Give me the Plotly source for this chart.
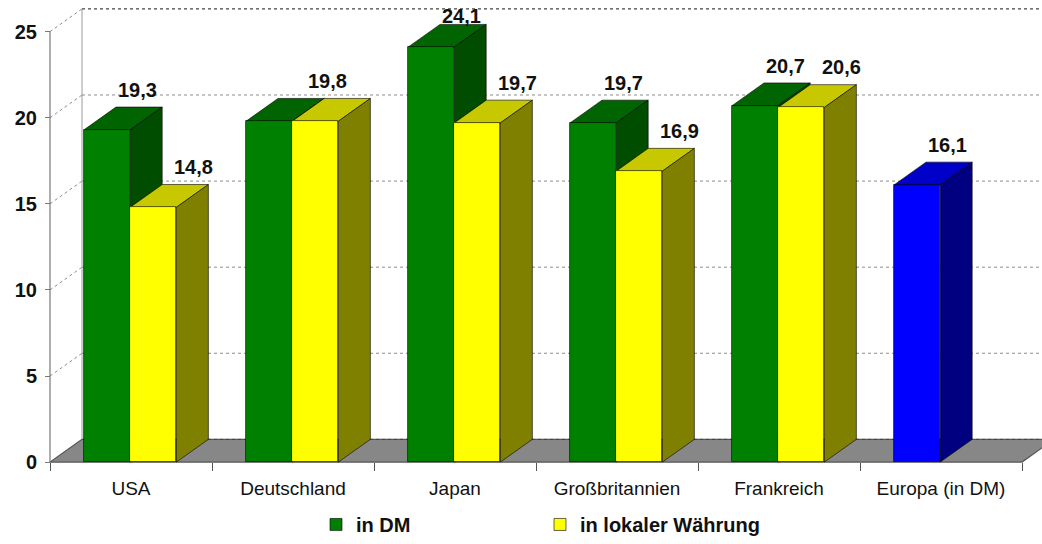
import plotly.graph_objects as go

# ---- data -----------------------------------------------------------------
categories = ["USA", "Deutschland", "Japan", "Großbritannien", "Frankreich", "Europa (in DM)"]
in_dm = [19.3, 19.8, 24.1, 19.7, 20.7, 16.1]
in_local = [14.8, 19.8, 19.7, 16.9, 20.6, None]
y_ticks = [0, 5, 10, 15, 20, 25]

# ---- geometry of the pseudo-3D frame ---------------------------------------
W, H = 1042, 544
X0_PX, Y0_PX = 50, 467          # pixel position of the front origin
PX_PER_CAT = 162                # pixels per category slot
PX_PER_UNIT = 17.4              # pixels per value unit
DEPTH_PX = (32, 23)             # receding offset of the back plane
PAD = 10                        # extra room so edge lines are not clipped

plot_left, plot_bottom = X0_PX - PAD, Y0_PX + PAD
x_range = [-PAD / PX_PER_CAT, (W - X0_PX) / PX_PER_CAT]
y_range = [-PAD / PX_PER_UNIT, Y0_PX / PX_PER_UNIT]
DX = DEPTH_PX[0] / PX_PER_CAT
DY = DEPTH_PX[1] / PX_PER_UNIT
N = len(categories)
TOP = max(y_ticks)

SLOT_L, SLOT_M, SLOT_R = 0.21, 0.495, 0.78   # bar edges inside a slot

FONT = "Liberation Sans, Arial, sans-serif"
GREEN = dict(front="#008000", top="#006400", side="#004d00")
YELLOW = dict(front="#ffff00", top="#c8c800", side="#808000")
BLUE = dict(front="#0000ff", top="#0000c8", side="#000080")
EDGE = "rgba(0,0,0,0.75)"

shapes = []


def poly(points, fill, line_color=EDGE, width=0.8):
    path = "M " + " L ".join(f"{x},{y}" for x, y in points) + " Z"
    shapes.append(dict(type="path", path=path, xref="x", yref="y",
                       fillcolor=fill, line=dict(color=line_color, width=width),
                       layer="below"))


def seg(x1, y1, x2, y2, color, dash="solid", width=1):
    shapes.append(dict(type="line", x0=x1, y0=y1, x1=x2, y1=y2, xref="x", yref="y",
                       line=dict(color=color, width=width, dash=dash), layer="below"))


# floor
poly([(0, 0), (N, 0), (N + DX, DY), (DX, DY)], "#878787", "#555555", 1.2)
# back wall grid lines and left wall diagonals
for v in y_ticks:
    seg(DX, v + DY, x_range[1] + 1, v + DY,
        "#444444" if v in (0, TOP) else "#8c8c8c", "dot", 1.4 if v == TOP else 1)
    if v > 0:
        seg(0, v, DX, v + DY, "#8c8c8c", "dot", 1)
# back wall left edge and front value axis
seg(DX, DY, DX, TOP + DY, "#9a9a9a")
seg(0, 0, 0, TOP, "#777777", width=1.2)

# top and side faces of each box, left series first so the right one overlaps it
bar_colors = [GREEN] * (N - 1) + [BLUE]
for i in range(N):
    for vals, left, right, col in ((in_dm, SLOT_L, SLOT_M, bar_colors[i]),
                                   (in_local, SLOT_M, SLOT_R, YELLOW)):
        v = vals[i]
        if v is None:
            continue
        a, b = i + left, i + right
        poly([(a, v), (b, v), (b + DX, v + DY), (a + DX, v + DY)], col["top"])
        poly([(b, 0), (b + DX, DY), (b + DX, v + DY), (b, v)], col["side"])

# ---- front faces -----------------------------------------------------------
fig = go.Figure()
fig.add_trace(go.Bar(
    name="in DM",
    x=[i + (SLOT_L + SLOT_M) / 2 for i in range(N)], y=in_dm,
    width=SLOT_M - SLOT_L,
    marker=dict(color=[c["front"] for c in bar_colors], line=dict(color=EDGE, width=0.8)),
    hoverinfo="skip",
))
fig.add_trace(go.Bar(
    name="in lokaler Währung",
    x=[i + (SLOT_M + SLOT_R) / 2 for i in range(N)], y=in_local,
    width=SLOT_R - SLOT_M,
    marker=dict(color=YELLOW["front"], line=dict(color=EDGE, width=0.8)),
    hoverinfo="skip",
))


def fmt(v):
    return f"{v:.1f}".replace(".", ",")


# value labels, lifted above the box but kept inside the frame
LABEL_LIFT = 40
LABEL_MIN_Y_PX = 17
annotations = []
for i in range(N):
    g, y = in_dm[i], in_local[i]
    cg = i + (SLOT_L + SLOT_M) / 2
    cy = i + (SLOT_M + SLOT_R) / 2
    items = []
    if y is not None and abs(g - y) < 1e-9:
        items.append(((cg + cy) / 2, g, 35))
    else:
        items.append((cg, g, 30))
        if y is not None:
            items.append((cy, y, 40))
    for x, v, xs in items:
        top_px = Y0_PX - v * PX_PER_UNIT
        lift = min(LABEL_LIFT, top_px - LABEL_MIN_Y_PX)
        annotations.append(dict(x=x, y=v, xref="x", yref="y", text=fmt(v),
                                showarrow=False, xshift=xs, yshift=lift,
                                font=dict(family=FONT, size=20, color="#111111",
                                          weight="bold"),
                                xanchor="center", yanchor="middle"))

fig.update_layout(
    width=W, height=H,
    margin=dict(l=plot_left, r=0, t=0, b=H - plot_bottom),
    paper_bgcolor="white", plot_bgcolor="white",
    barmode="overlay", bargap=0,
    shapes=shapes, annotations=annotations,
    font=dict(family=FONT, color="#111111"),
    showlegend=True,
    legend=dict(orientation="h", x=(316 - plot_left) / (W - plot_left), xanchor="left",
                y=-(530 - plot_bottom) / plot_bottom, yanchor="middle",
                entrywidth=179, entrywidthmode="pixels",
                font=dict(family=FONT, size=20, color="#111111", weight="bold"),
                bgcolor="rgba(0,0,0,0)"),
    xaxis=dict(range=x_range, anchor="free", position=PAD / plot_bottom,
               tickmode="array", tickvals=[i + 0.5 for i in range(N)], ticktext=categories,
               ticks="", showgrid=False, zeroline=False, showline=False,
               ticklabelstandoff=13,
               tickfont=dict(family=FONT, size=19, color="#111111"),
               minor=dict(tickmode="array", tickvals=list(range(N + 1)), ticks="outside",
                          ticklen=8, tickcolor="#555555", showgrid=False),
               fixedrange=True),
    yaxis=dict(range=y_range, anchor="free", position=PAD / (W - plot_left),
               tickmode="array", tickvals=y_ticks, ticks="outside", ticklen=5,
               tickcolor="#777777", showgrid=False, zeroline=False, showline=False,
               ticklabelstandoff=4,
               tickfont=dict(family=FONT, size=20, color="#111111", weight="bold"),
               fixedrange=True),
)

fig.write_html("out.html", config={"displayModeBar": False})
